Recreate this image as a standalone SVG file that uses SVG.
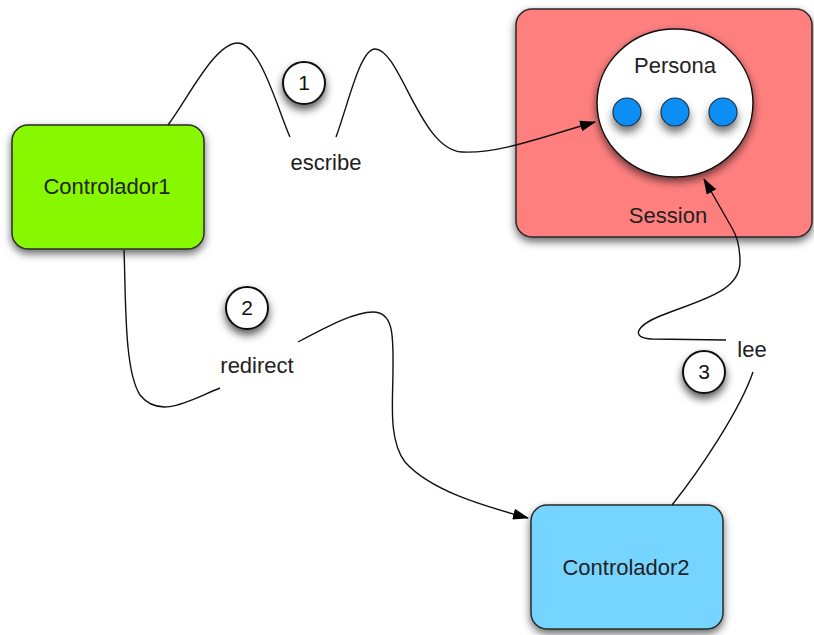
<svg xmlns="http://www.w3.org/2000/svg" width="814" height="635" viewBox="0 0 814 635">
<defs>
<filter id="sh" x="-20%" y="-20%" width="140%" height="150%">
<feDropShadow dx="0" dy="4" stdDeviation="4" flood-color="#000" flood-opacity="0.6"/>
</filter>
<filter id="shn" x="-60%" y="-60%" width="220%" height="240%">
<feDropShadow dx="0" dy="5" stdDeviation="4.5" flood-color="#000" flood-opacity="0.65"/>
</filter>
<filter id="shs" x="-50%" y="-50%" width="200%" height="220%">
<feDropShadow dx="0" dy="6" stdDeviation="4" flood-color="#000" flood-opacity="0.55"/>
</filter>
<marker id="arr" markerWidth="16" markerHeight="11" refX="15" refY="5.5" orient="auto" markerUnits="userSpaceOnUse">
<path d="M0,0 L16,5.5 L0,11 z" fill="#000"/>
</marker>
<style>
.box{stroke:#2a2a2a;stroke-width:1.5;}
.t{font-family:"Liberation Sans",Arial,sans-serif;font-size:22px;fill:#222;text-anchor:middle;}
.n{font-family:"Liberation Sans",Arial,sans-serif;font-size:21px;fill:#111;text-anchor:middle;}
.num{fill:#fff;stroke:#111;stroke-width:2;}
.c{fill:none;stroke:#111;stroke-width:1.4;}
.dot{fill:#0a8ef2;stroke:#1a3550;stroke-width:1.2;}
</style>
</defs>
<rect width="814" height="635" fill="#fff"/>

<g id="session">
<rect class="box" x="516" y="9" width="296" height="228" rx="16" fill="#ff7f7f" filter="url(#sh)"/>
<text class="t" x="668" y="223">Session</text>
</g>
<g id="persona">
<ellipse cx="675" cy="103" rx="78" ry="74" fill="#fff" stroke="#111" stroke-width="1.5" filter="url(#sh)"/>
<text class="t" x="675" y="73">Persona</text>
<circle class="dot" cx="627" cy="112" r="14" filter="url(#shs)"/>
<circle class="dot" cx="675" cy="112" r="14" filter="url(#shs)"/>
<circle class="dot" cx="723" cy="112" r="14" filter="url(#shs)"/>
</g>
<g id="controlador1">
<rect class="box" x="12" y="125" width="192" height="124" rx="16" fill="#88f800" filter="url(#sh)"/>
<text class="t" x="107" y="194">Controlador1</text>
</g>
<g id="controlador2">
<rect class="box" x="531" y="505" width="192" height="124" rx="16" fill="#76d5fe" filter="url(#sh)"/>
<text class="t" x="626" y="575">Controlador2</text>
</g>

<g id="connectors">
<path class="c" d="M168,125 C190,95 215,43 238,43 C260,43 278,110 290,137"/>
<path class="c" d="M336,137 C348,105 360,49 375,49 C400,49 420,150 462,152 C500,154 545,136 595,122" marker-end="url(#arr)"/>
<path class="c" d="M124,250 C126,300 124,370 140,395 C160,420 190,400 220,388"/>
<path class="c" d="M298,342 C330,325 355,312 373,312 C395,312 393,340 393,370 C393,400 388,440 405,462 C430,490 480,505 528,518" marker-end="url(#arr)"/>
<path class="c" d="M672,505 C700,470 740,410 753,372"/>
<path class="c" d="M726,340 L652,339 C630,338 636,326 660,316 C700,300 740,292 740,262 C740,248 738,238 732,228 L704,179" marker-end="url(#arr)"/>
</g>

<g id="label1">
<circle class="num" cx="304" cy="83" r="21" filter="url(#shn)"/>
<text class="n" x="304" y="90">1</text>
<text class="t" x="326" y="170">escribe</text>
</g>
<g id="label2">
<circle class="num" cx="247" cy="308" r="21" filter="url(#shn)"/>
<text class="n" x="247" y="315">2</text>
<text class="t" x="257" y="373">redirect</text>
</g>
<g id="label3">
<circle class="num" cx="704" cy="372" r="21" filter="url(#shn)"/>
<text class="n" x="704" y="379">3</text>
<text class="t" x="752" y="357">lee</text>
</g>
</svg>
